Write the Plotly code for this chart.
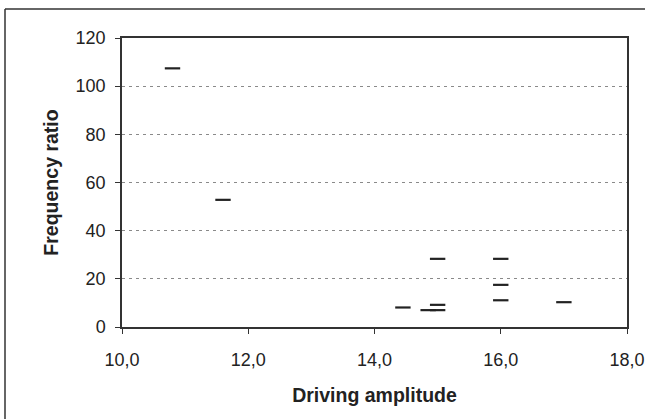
import plotly.graph_objects as go

# Data
driving_amplitude = [10.8, 11.6, 14.45, 14.85, 15.0, 15.0, 15.0, 16.0, 16.0, 16.0, 17.0]
frequency_ratio = [107.4, 52.8, 8.1, 7.0, 7.0, 9.2, 28.3, 28.3, 17.5, 11.1, 10.3]

x_ticks = [10, 12, 14, 16, 18]
x_tick_labels = ["10,0", "12,0", "14,0", "16,0", "18,0"]
y_ticks = [0, 20, 40, 60, 80, 100, 120]

FONT = "Liberation Sans, Arial, sans-serif"

fig = go.Figure()
fig.add_trace(go.Scatter(
    x=driving_amplitude,
    y=frequency_ratio,
    mode="markers",
    marker=dict(symbol="line-ew", size=11, line=dict(color="#222222", width=2.2)),
    showlegend=False,
    cliponaxis=False,
))

fig.update_layout(
    width=645, height=419,
    margin=dict(l=122, r=18, t=38, b=92),
    paper_bgcolor="white",
    plot_bgcolor="white",
    font=dict(family=FONT, color="#222222"),
    xaxis=dict(
        range=[10, 18],
        automargin=False,
        tickvals=x_ticks, ticktext=x_tick_labels,
        ticks="outside", ticklen=5, tickcolor="#333333", tickwidth=1,
        showline=True, linecolor="#333333", linewidth=1.5, mirror=True,
        showgrid=False, zeroline=False,
        tickfont=dict(size=18, family=FONT, color="#222222"),
        ticklabelstandoff=11,
        title=dict(text="<b>Driving amplitude</b>", font=dict(size=19.5, family=FONT, color="#222222"), standoff=19),
    ),
    yaxis=dict(
        range=[0, 120],
        automargin=False,
        tickvals=y_ticks,
        ticks="outside", ticklen=5, tickcolor="#333333", tickwidth=1,
        showline=True, linecolor="#333333", linewidth=1.5, mirror=True,
        showgrid=True, gridcolor="#8a8a8a", gridwidth=1, griddash="3px,4px",
        zeroline=False,
        tickfont=dict(size=18, family=FONT, color="#222222"),
        ticklabelstandoff=6,
        title=dict(text="<b>Frequency ratio</b>", font=dict(size=19.5, family=FONT, color="#222222"), standoff=12),
    ),
)

# outer chart frame: left and top edges (the rest lies outside the visible region)
px_w, px_h = 505.0, 288.7
left = -117 / px_w
top = 1 + 29 / px_h
fig.add_shape(type="line", xref="paper", yref="paper",
              x0=left, x1=left, y0=-92 / px_h, y1=top,
              line=dict(color="#333333", width=1.5), layer="below")
fig.add_shape(type="line", xref="paper", yref="paper",
              x0=left, x1=1 + 18 / px_w, y0=top, y1=top,
              line=dict(color="#333333", width=1.5), layer="below")

fig.write_html("out.html")
